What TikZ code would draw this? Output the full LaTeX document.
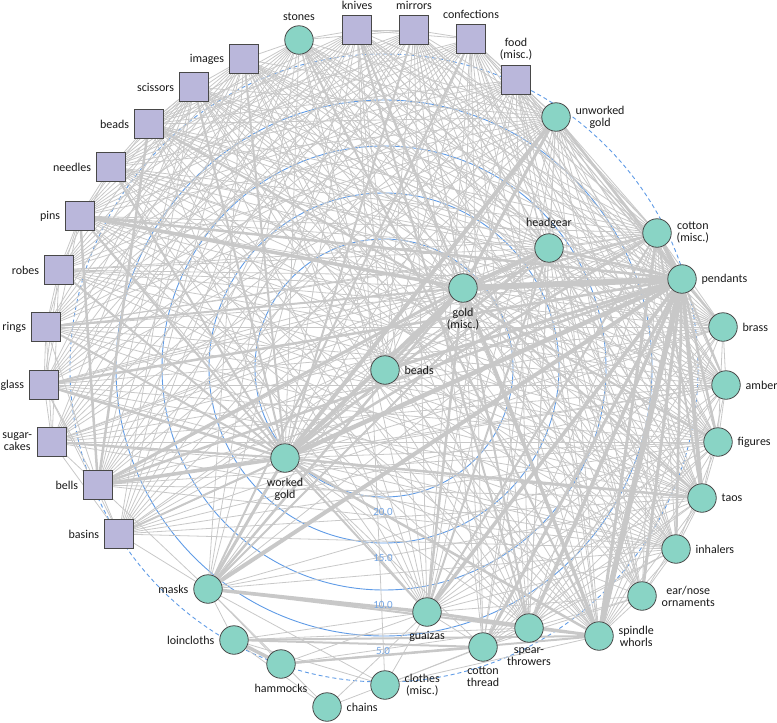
\documentclass[tikz,border=0pt]{standalone}
\usepackage{fontspec}
\setmainfont{Carlito}
\usepackage{xcolor}
\usetikzlibrary{positioning,backgrounds}

\definecolor{nativefill}{RGB}{137,212,197}
\definecolor{tradefill}{RGB}{186,183,219}
\definecolor{nodeline}{RGB}{72,72,72}
\definecolor{linkgray}{RGB}{200,200,200}
\definecolor{axisblue}{RGB}{95,155,230}
\definecolor{axistext}{RGB}{115,165,228}

\tikzset{
  native/.style={circle, draw=nodeline, fill=nativefill, line width=0.8pt, minimum size=28.5pt, inner sep=0pt},
  trade/.style={rectangle, draw=nodeline, fill=tradefill, line width=0.8pt, minimum size=29pt, inner sep=0pt},
  lbl/.style={font=\fontsize{12}{12}\selectfont, align=center, text=black!90},
  link/.style={draw=linkgray, line width=0.8pt},
  axis/.style={draw=axisblue, line width=0.9pt},
  axislbl/.style={font=\fontsize{11}{11}\selectfont, text=axistext}
}

\begin{document}
\begin{tikzpicture}[x=1pt, y=-1pt, label distance=1.5pt]
  \useasboundingbox (0,0) rectangle (777,723);

  % Trade goods
  \node[trade, label={[lbl]above:knives}] (knives) at (357,30) {};
  \node[trade, label={[lbl]above:mirrors}] (mirrors) at (414,30) {};
  \node[trade, label={[lbl]above:confections}] (confect) at (471,39) {};
  \node[trade, label={[lbl]above:food\\(misc.)}] (food) at (516,80) {};
  \node[trade, label={[lbl]left:images}] (images) at (244,59) {};
  \node[trade, label={[lbl]left:scissors}] (scissors) at (194,87) {};
  \node[trade, label={[lbl]left:beads}] (tbeads) at (149,124) {};
  \node[trade, label={[lbl]left:needles}] (needles) at (111,167) {};
  \node[trade, label={[lbl]left:pins}] (pins) at (80,216) {};
  \node[trade, label={[lbl]left:robes}] (robes) at (59,270) {};
  \node[trade, label={[lbl]left:rings}] (rings) at (46,327) {};
  \node[trade, label={[lbl]left:glass}] (glass) at (44,385) {};
  \node[trade, label={[lbl]left:sugar-\\cakes}] (sugar) at (52,442) {};
  \node[trade, label={[lbl]left:bells}] (bells) at (98,485) {};
  \node[trade, label={[lbl]left:basins}] (basins) at (119,534) {};

  % Native goods
  \node[native, label={[lbl]above:stones}] (stones) at (299,40) {};
  \node[native, label={[lbl]right:unworked\\gold}] (unworked) at (556,117) {};
  \node[native, label={[lbl]above:headgear}] (headgear) at (549,248) {};
  \node[native, label={[lbl]right:cotton\\(misc.)}] (cotton) at (657,233) {};
  \node[native, label={[lbl]below:gold\\(misc.)}] (goldm) at (463,288) {};
  \node[native, label={[lbl]right:pendants}] (pendants) at (682,279) {};
  \node[native, label={[lbl]right:brass}] (brass) at (723,327) {};
  \node[native, label={[lbl]right:amber}] (amber) at (726,385) {};
  \node[native, label={[lbl]right:figures}] (figures) at (718,442) {};
  \node[native, label={[lbl]right:beads}] (nbeads) at (385,370) {};
  \node[native, label={[lbl]right:taos}] (taos) at (702,498) {};
  \node[native, label={[lbl]below:worked\\gold}] (worked) at (285,458) {};
  \node[native, label={[lbl]right:inhalers}] (inhalers) at (676,549) {};
  \node[native, label={[lbl]right:ear/nose\\ornaments}] (earnose) at (642,596) {};
  \node[native, label={[lbl]left:masks}] (masks) at (208,589) {};
  \node[native, label={[lbl]below:guaizas}] (guaizas) at (427,612) {};
  \node[native, label={[lbl]below:spear-\\throwers}] (spear) at (529,628) {};
  \node[native, label={[lbl]right:spindle\\whorls}] (spindle) at (599,636) {};
  \node[native, label={[lbl]below:cotton\\thread}] (cthread) at (483,647) {};
  \node[native, label={[lbl]left:loincloths}] (loincloths) at (234,640) {};
  \node[native, label={[lbl]below:hammocks}] (hammocks) at (281,664) {};
  \node[native, label={[lbl]right:clothes\\(misc.)}] (clothes) at (385,685) {};
  \node[native, label={[lbl]right:chains}] (chains) at (327,707) {};

  % Axis values
  \foreach \r/\v in {268/5.0,222/10.0,175/15.0,129/20.0}
    \node[axislbl] (ax\r) at (383,368+\r+15) {\v};

  \begin{scope}[on background layer]
    % Radial axis
    \draw[axis, dash pattern=on 4pt off 3pt] (384,368) circle[radius=314pt];
    \foreach \r in {268,222,175,129}
      \draw[axis] (384,368) circle[radius=\r pt];

    % Thin links
    \foreach \a in {knives,mirrors,confect,food,images,scissors,stones}
      \foreach \b in {unworked,headgear,cotton,goldm,pendants,nbeads,worked,brass,amber,figures,taos,inhalers,earnose,spindle,spear,guaizas,tbeads,needles,pins,robes,rings,glass,sugar,bells,basins}
        \draw[link] (\a) -- (\b);
    \foreach \a in {tbeads,needles,pins,robes,rings,glass,sugar,bells,basins}
      \foreach \b in {unworked,headgear,cotton,goldm,pendants,worked,brass,amber,figures,taos,inhalers}
        \draw[link] (\a) -- (\b);
    \foreach \a in {tbeads,needles,pins}
      \foreach \b in {spindle,spear,guaizas}
        \draw[link] (\a) -- (\b);
    \foreach \a in {unworked,headgear,cotton,goldm,pendants,worked}
      \foreach \b in {brass,amber,figures,taos,inhalers,earnose,spindle,spear,cthread,guaizas,masks}
        \draw[link] (\a) -- (\b);
    \foreach \a in {brass,amber,figures,taos,inhalers,earnose}
      \foreach \b in {spindle,spear,cthread,guaizas}
        \draw[link] (\a) -- (\b);
    \foreach \a/\b in {knives/mirrors,mirrors/confect,confect/food,knives/stones,stones/images,
        images/scissors,scissors/tbeads,knives/confect,stones/mirrors,tbeads/needles,needles/pins,
        pins/robes,robes/rings,rings/glass,glass/sugar,sugar/bells,bells/basins,tbeads/pins,
        needles/robes,pins/rings,robes/glass,rings/sugar,glass/bells,sugar/basins,pins/glass,
        robes/sugar,rings/bells,glass/basins,unworked/headgear,unworked/cotton,headgear/cotton,
        nbeads/worked,cotton/goldm,brass/amber,amber/figures,figures/taos,taos/inhalers,
        inhalers/earnose,brass/figures,amber/taos,figures/inhalers,taos/earnose,spindle/spear,
        spear/cthread,cthread/guaizas,basins/masks,bells/masks,masks/loincloths,masks/hammocks,
        masks/chains,masks/clothes,loincloths/guaizas,loincloths/spear,hammocks/guaizas,
        hammocks/spear,chains/guaizas,chains/cthread,chains/loincloths,clothes/knives,
        clothes/guaizas,clothes/spear,clothes/loincloths,clothes/spindle,unworked/food,
        knives/masks,images/masks,stones/masks,mirrors/cthread,confect/cthread,masks/taos,
        masks/figures,masks/inhalers,nbeads/taos,nbeads/spindle,nbeads/headgear,nbeads/cotton}
      \draw[link] (\a) -- (\b);

    % Heavier links
    \foreach \a/\b/\w in {goldm/pendants/6,pendants/spindle/5.5,worked/pendants/4.5,masks/pendants/4,
        worked/unworked/4,worked/goldm/4,pendants/taos/4,pendants/guaizas/3.5,masks/guaizas/3.5,
        cotton/pendants/4,headgear/goldm/4,pendants/spear/3.5,goldm/spindle/3.5,pins/goldm/3.5,
        bells/worked/3.5,loincloths/hammocks/3.5,unworked/goldm/3,unworked/pendants/2.5,
        headgear/pendants/2.5,headgear/worked/2.5,cotton/goldm/2,goldm/bells/3,pendants/bells/2.5,
        masks/worked/3,masks/spear/2,guaizas/spear/2.5,spear/spindle/2.5,
        guaizas/spindle/2.5,pendants/figures/2.5,pendants/amber/2,pendants/brass/2,
        pendants/inhalers/2.5,pendants/earnose/3,pendants/cthread/3,cotton/spindle/3,cotton/taos/2,
        cotton/guaizas/2,cotton/worked/2.5,taos/worked/2.5,headgear/masks/2,headgear/guaizas/2,
        goldm/masks/2.5,goldm/guaizas/2.5,goldm/spear/2,goldm/taos/2,nbeads/goldm/3,
        nbeads/pendants/3,worked/guaizas/2,worked/spindle/2.5,pins/worked/2,pins/pendants/2.5,
        robes/worked/2,rings/worked/2,glass/worked/2.5,sugar/worked/2,basins/worked/2,
        tbeads/bells/2.5,pins/bells/2.5,tbeads/figures/2,glass/pendants/2.5,rings/goldm/2,
        needles/worked/2,scissors/worked/2,images/worked/2,knives/goldm/2,mirrors/worked/2,
        stones/spindle/2,confect/masks/2,knives/spear/2,loincloths/spindle/2,hammocks/spindle/2,
        loincloths/cthread/2,hammocks/cthread/2}
      \draw[link, line width=\w pt] (\a) -- (\b);
  \end{scope}
\end{tikzpicture}
\end{document}
